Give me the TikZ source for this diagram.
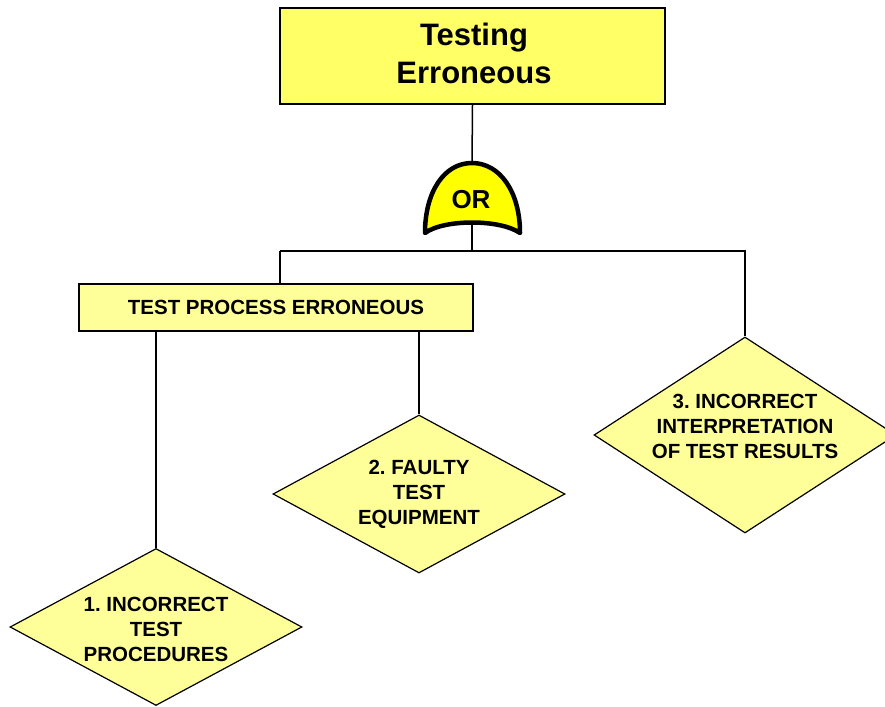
\documentclass[tikz,border=0pt]{standalone}
\usepackage{fontspec}
\setmainfont{Liberation Sans}
\usetikzlibrary{shapes.geometric}
\definecolor{topyel}{HTML}{FFFF66}
\definecolor{paleyel}{HTML}{FFFF99}
\definecolor{gateyel}{HTML}{FFFF00}
\tikzset{
  topbox/.style={draw=black, line width=1.5pt, fill=topyel, minimum width=385pt, minimum height=96pt, inner sep=0pt},
  toptext/.style={align=center, inner sep=0pt, font=\fontsize{31}{38}\selectfont\bfseries},
  midbox/.style={draw=black, line width=1.5pt, fill=paleyel, minimum width=394pt, minimum height=47pt, inner sep=0pt, font=\fontsize{20.5}{25}\selectfont\bfseries},
  dia/.style={diamond, draw=black, line width=1.2pt, fill=paleyel, inner sep=0pt},
  diatext/.style={align=center, inner sep=0pt, font=\fontsize{20.5}{25}\selectfont\bfseries\frenchspacing},
  conn/.style={draw=black, line width=1.5pt},
  gate/.style={draw=black, line width=4.5pt, fill=gateyel, line join=round, line cap=round},
  gatetext/.style={inner sep=0pt, font=\fontsize{26}{30}\selectfont\bfseries}
}
\begin{document}
\begin{tikzpicture}[x=1pt, y=-1pt]
\useasboundingbox (0,0) rectangle (885,706);
% top event
\node[topbox] (top) at (472.5,56) {};
\node[toptext] (toptxt) at (474,53) {Testing\\Erroneous};
% OR gate
\coordinate (gtop) at (472,163);
\coordinate (gbot) at (472,222);
\path[gate] (425,233) .. controls (425,192) and (444,163) .. (gtop)
  .. controls (500,163) and (520,192) .. (520,233)
  .. controls (500,219) and (444,219) .. (425,233) -- cycle;
\node[gatetext] (or) at (471,200) {OR};
% junction
\coordinate (jn) at (472,251);
\coordinate (jl) at (280,251);
% intermediate box
\node[midbox] (tp) at (276,307.5) {TEST PROCESS ERRONEOUS};
% diamonds
\node[dia, minimum width=292pt, minimum height=157pt] (d1) at (156,627) {};
\node[diatext] (t1) at (156,629) {1. INCORRECT\\TEST\\PROCEDURES};
\node[dia, minimum width=292pt, minimum height=158pt] (d2) at (419,494) {};
\node[diatext] (t2) at (419,494.5) {2. FAULTY\\TEST\\EQUIPMENT};
\node[dia, minimum width=302pt, minimum height=196pt] (d3) at (745,435) {};
\node[diatext] (t3) at (745,426) {3. INCORRECT\\INTERPRETATION\\OF TEST RESULTS};
% connectors
\draw[conn] (top.south) -- (gtop);
\draw[conn] (gbot) -- (jn);
\draw[conn] (jl) -- (jn) -| (d3.north);
\draw[conn] (jl) -- (jl |- tp.north);
\draw[conn] (d1.north |- tp.south) -- (d1.north);
\draw[conn] (d2.north |- tp.south) -- (d2.north);
\end{tikzpicture}
\end{document}
